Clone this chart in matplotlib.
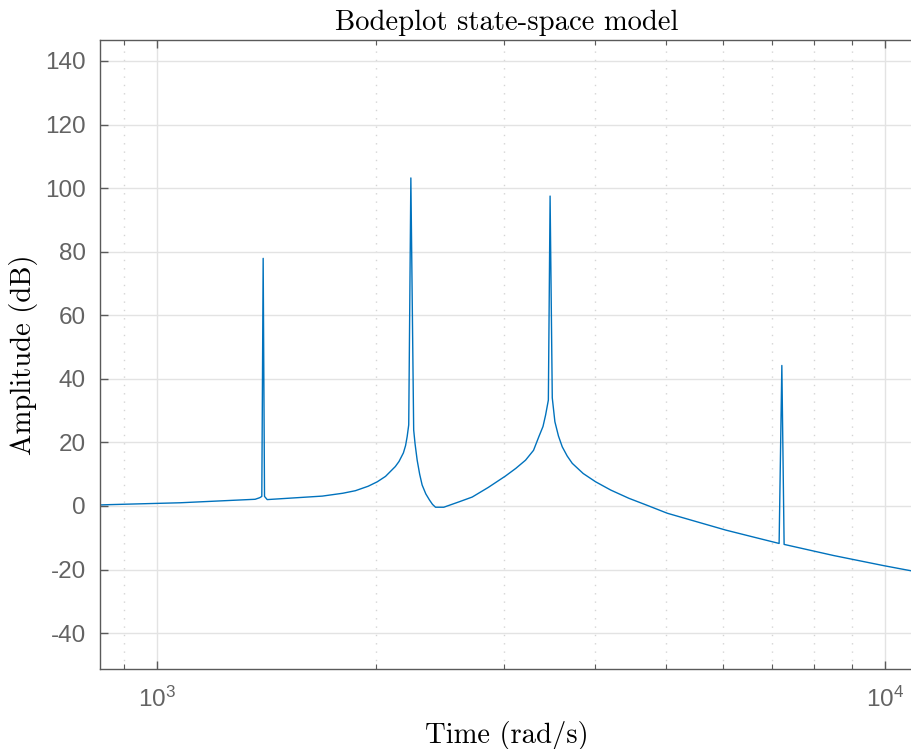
import matplotlib.pyplot as plt
from matplotlib.ticker import LogLocator, NullFormatter

# Frequency (rad/s) and amplitude (dB)
freq = [832, 856, 1076, 1364, 1384, 1393, 1399, 1405, 1417, 1687, 1800, 1873,
        1950, 2007, 2060, 2125, 2150, 2180, 2195, 2206, 2217, 2232, 2252, 2262,
        2277, 2295, 2313, 2340, 2367, 2390, 2413, 2477, 2600, 2710, 2850, 3010,
        3110, 3208, 3290, 3346, 3390, 3418, 3448, 3467, 3491, 3520, 3560, 3603,
        3660, 3719, 3850, 4004, 4200, 4449, 4700, 5024, 5500, 6044, 6600, 7154,
        7216, 7268, 8500, 9968, 10917]
amp_db = [0.3, 0.4, 1.0, 2.1, 2.6, 3.0, 77.9, 3.0, 2.0, 3.1, 4.0, 4.8,
          6.2, 7.6, 9.3, 12.4, 14.0, 16.7, 19.0, 21.8, 25.5, 103.2, 23.9, 19.5,
          14.4, 10.0, 6.6, 3.8, 1.9, 0.5, -0.4, -0.4, 1.3, 2.8, 5.8, 9.4,
          11.8, 14.4, 17.5, 21.8, 25.0, 28.6, 33.3, 97.5, 34.0, 26.5, 22.0, 18.6,
          15.7, 13.4, 10.2, 7.6, 5.0, 2.4, 0.3, -2.3, -4.9, -7.6, -9.8, -11.8,
          44.2, -12.1, -15.6, -18.8, -20.5]
y_ticks = [-40, -20, 0, 20, 40, 60, 80, 100, 120, 140]

plt.rcParams['font.family'] = ['Liberation Sans', 'DejaVu Sans']
plt.rcParams['mathtext.default'] = 'regular'
plt.rcParams['axes.unicode_minus'] = False

fig = plt.figure(figsize=(9.12, 7.49), dpi=100)
ax = fig.add_axes([100 / 912, 1 - 669 / 749, 813 / 912, 629 / 749])

ax.plot(freq, amp_db, color='#0072BD', linewidth=1.0)

ax.set_xscale('log')
ax.set_xlim(835, 10926)
ax.set_ylim(-51.3, 146.6)
ax.set_yticks(y_ticks)
ax.xaxis.set_minor_locator(LogLocator(base=10, subs=range(2, 10), numticks=20))
ax.xaxis.set_minor_formatter(NullFormatter())

# MATLAB-like grid
ax.grid(True, which='major', color='#e3e3e3', linewidth=1.0, linestyle='-')
ax.grid(True, which='minor', axis='x', color='#d5d5d5', linewidth=1.0,
        linestyle=(0, (1, 5)))
ax.set_axisbelow(True)

for s in ax.spines.values():
    s.set_color('#5a5a5a')
    s.set_linewidth(1.0)
ax.tick_params(which='both', direction='in', top=True, right=False,
               color='#5a5a5a', labelcolor='#636363', labelsize=17.5)
ax.tick_params(which='major', length=6, width=1.0)
ax.tick_params(which='minor', length=3.5, width=0.8)
ax.tick_params(axis='y', pad=10)
ax.tick_params(axis='x', pad=13)

serif = ['cmr10', 'DejaVu Serif']
ax.set_title('Bodeplot state-space model', fontsize=20.6, family=serif,
             pad=7, color='black')
ax.set_xlabel('Time (rad/s)', fontsize=20.6, family=serif, labelpad=6)
ax.set_ylabel('Amplitude (dB)', fontsize=20.6, family=serif, labelpad=5)

fig.savefig('out.png', dpi=100)
